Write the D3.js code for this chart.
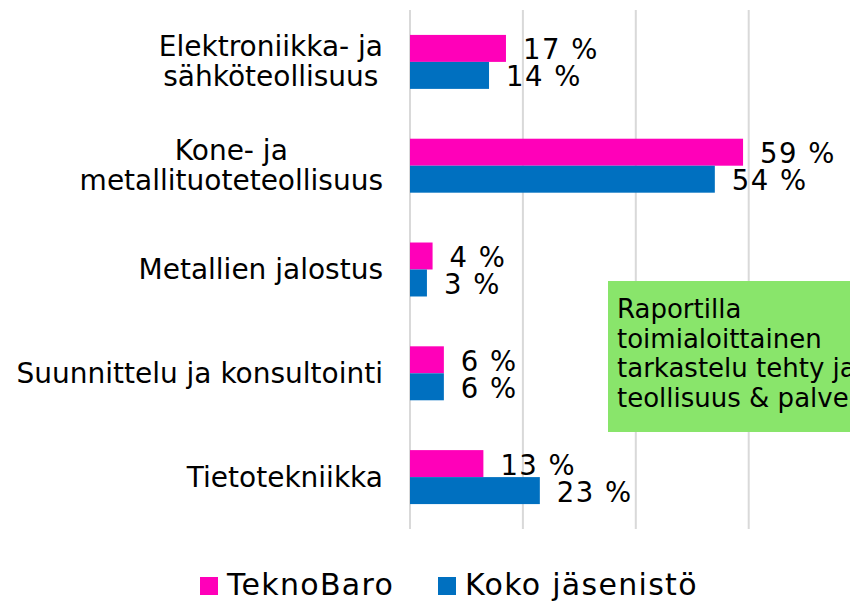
<!DOCTYPE html>
<html><head><meta charset="utf-8">
<script src="https://cdn.jsdelivr.net/npm/d3@7"></script>
<style>body{margin:0;background:#fff;}svg{display:block;font-family:"DejaVu Sans",Verdana,sans-serif;}</style>
</head><body>
<svg id="c" width="850" height="602"></svg>
<script>
const categories = [
  ["Elektroniikka- ja","sähköteollisuus"],
  ["Kone- ja","metallituoteteollisuus"],
  ["Metallien jalostus"],
  ["Suunnittelu ja konsultointi"],
  ["Tietotekniikka"]
];
const seriesNames = ["TeknoBaro","Koko jäsenistö"];
const seriesColors = ["#ff00b9","#0070c0"];
const teknoBaro = [17,59,4,6,13];
const kokoJasenisto = [14,54,3,6,23];
const gridTicks = [0,20,40,60,80];
const noteLines = ["Raportilla","toimialoittainen","tarkastelu tehty ja","teollisuus & palvelut"];

const svg = d3.select("#c");
const x = d3.scaleLinear().domain([0,80]).range([410,861.6]);
const y = d3.scaleBand().domain(d3.range(categories.length)).range([10,529]).paddingInner(0.48).paddingOuter(0.24);
const ys = d3.scaleBand().domain([0,1]).range([0,y.bandwidth()]);
const values = [teknoBaro,kokoJasenisto];

// gridlines
svg.append("g").selectAll("line").data(gridTicks).join("line")
  .attr("x1",d=>x(d)).attr("x2",d=>x(d)).attr("y1",10).attr("y2",529)
  .attr("stroke","#d9d9d9").attr("stroke-width",2);

// bars
const g = svg.append("g");
categories.forEach((c,i)=>{
  values.forEach((vals,s)=>{
    const v = vals[i];
    g.append("rect").attr("x",x(0)).attr("y",y(i)+ys(s)).attr("width",x(v)-x(0)).attr("height",ys.bandwidth())
      .attr("fill",seriesColors[s]);
    g.append("text").attr("x",x(v)+17).attr("y",y(i)+ys(s)+ys.bandwidth()/2+1)
      .attr("dominant-baseline","central").attr("font-size",27.5).attr("letter-spacing",1.5).attr("fill","#000")
      .text(v+" %");
  });
});

// category labels
categories.forEach((lines,i)=>{
  const cy = y(i)+y.bandwidth()/2;
  const lh = 30;
  const t = svg.append("text").attr("font-size",28).attr("fill","#000").attr("text-anchor","middle");
  const spans = lines.map((l,k)=>t.append("tspan").attr("y",cy+(k-(lines.length-1)/2)*lh).attr("dominant-baseline","central").text(l));
  const maxW = d3.max(spans,s=>s.node().getComputedTextLength());
  spans.forEach(s=>s.attr("x",383-maxW/2));
});

// note box
svg.append("rect").attr("x",608).attr("y",281).attr("width",260).attr("height",151).attr("fill","#89e56b");
const nt = svg.append("text").attr("font-size",26).attr("fill","#000");
noteLines.forEach((l,k)=>nt.append("tspan").attr("x",617).attr("y",318+k*29.5).text(l));

// legend
const legX = [200,438];
seriesNames.forEach((n,s)=>{
  svg.append("rect").attr("x",legX[s]).attr("y",577).attr("width",18).attr("height",18).attr("fill",seriesColors[s]);
  svg.append("text").attr("x",legX[s]+27).attr("y",595).attr("font-size",30).attr("letter-spacing",1.3).attr("fill","#000").text(n);
});
</script>
</body></html>
